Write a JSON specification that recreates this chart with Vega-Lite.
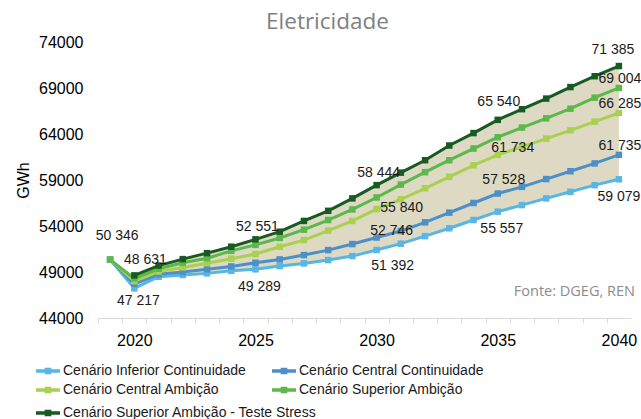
{
  "$schema": "https://vega.github.io/schema/vega-lite/v6.json",
  "width": 533,
  "height": 276,
  "autosize": {"type": "none"},
  "padding": {"left": 98, "top": 42, "right": 10, "bottom": 101},
  "config": {
    "view": {"stroke": null},
    "font": "Liberation Sans",
    "locale": {"number": {"decimal": ",", "thousands": " ", "grouping": [3], "currency": ["", " €"]}}
  },
  "title": {"text": "Eletricidade", "fontSize": 22.5, "font": "Open Sans", "fontWeight": "normal", "color": "#808080", "anchor": "middle", "dx": -37, "offset": 1},
  "data": {"values": [
    {"ano": 2019, "cenario": "Cenário Inferior Continuidade", "valor": 50346},
    {"ano": 2020, "cenario": "Cenário Inferior Continuidade", "valor": 47217},
    {"ano": 2021, "cenario": "Cenário Inferior Continuidade", "valor": 48485},
    {"ano": 2022, "cenario": "Cenário Inferior Continuidade", "valor": 48670},
    {"ano": 2023, "cenario": "Cenário Inferior Continuidade", "valor": 48850},
    {"ano": 2024, "cenario": "Cenário Inferior Continuidade", "valor": 49135},
    {"ano": 2025, "cenario": "Cenário Inferior Continuidade", "valor": 49289},
    {"ano": 2026, "cenario": "Cenário Inferior Continuidade", "valor": 49645},
    {"ano": 2027, "cenario": "Cenário Inferior Continuidade", "valor": 49935},
    {"ano": 2028, "cenario": "Cenário Inferior Continuidade", "valor": 50295},
    {"ano": 2029, "cenario": "Cenário Inferior Continuidade", "valor": 50730},
    {"ano": 2030, "cenario": "Cenário Inferior Continuidade", "valor": 51392},
    {"ano": 2031, "cenario": "Cenário Inferior Continuidade", "valor": 52080},
    {"ano": 2032, "cenario": "Cenário Inferior Continuidade", "valor": 52900},
    {"ano": 2033, "cenario": "Cenário Inferior Continuidade", "valor": 53750},
    {"ano": 2034, "cenario": "Cenário Inferior Continuidade", "valor": 54650},
    {"ano": 2035, "cenario": "Cenário Inferior Continuidade", "valor": 55557},
    {"ano": 2036, "cenario": "Cenário Inferior Continuidade", "valor": 56270},
    {"ano": 2037, "cenario": "Cenário Inferior Continuidade", "valor": 57000},
    {"ano": 2038, "cenario": "Cenário Inferior Continuidade", "valor": 57715},
    {"ano": 2039, "cenario": "Cenário Inferior Continuidade", "valor": 58440},
    {"ano": 2040, "cenario": "Cenário Inferior Continuidade", "valor": 59079},
    {"ano": 2019, "cenario": "Cenário Central Continuidade", "valor": 50346},
    {"ano": 2020, "cenario": "Cenário Central Continuidade", "valor": 47700},
    {"ano": 2021, "cenario": "Cenário Central Continuidade", "valor": 48750},
    {"ano": 2022, "cenario": "Cenário Central Continuidade", "valor": 49000},
    {"ano": 2023, "cenario": "Cenário Central Continuidade", "valor": 49300},
    {"ano": 2024, "cenario": "Cenário Central Continuidade", "valor": 49600},
    {"ano": 2025, "cenario": "Cenário Central Continuidade", "valor": 50005},
    {"ano": 2026, "cenario": "Cenário Central Continuidade", "valor": 50370},
    {"ano": 2027, "cenario": "Cenário Central Continuidade", "valor": 50840},
    {"ano": 2028, "cenario": "Cenário Central Continuidade", "valor": 51380},
    {"ano": 2029, "cenario": "Cenário Central Continuidade", "valor": 52035},
    {"ano": 2030, "cenario": "Cenário Central Continuidade", "valor": 52746},
    {"ano": 2031, "cenario": "Cenário Central Continuidade", "valor": 53450},
    {"ano": 2032, "cenario": "Cenário Central Continuidade", "valor": 54400},
    {"ano": 2033, "cenario": "Cenário Central Continuidade", "valor": 55450},
    {"ano": 2034, "cenario": "Cenário Central Continuidade", "valor": 56500},
    {"ano": 2035, "cenario": "Cenário Central Continuidade", "valor": 57528},
    {"ano": 2036, "cenario": "Cenário Central Continuidade", "valor": 58255},
    {"ano": 2037, "cenario": "Cenário Central Continuidade", "valor": 59100},
    {"ano": 2038, "cenario": "Cenário Central Continuidade", "valor": 59950},
    {"ano": 2039, "cenario": "Cenário Central Continuidade", "valor": 60800},
    {"ano": 2040, "cenario": "Cenário Central Continuidade", "valor": 61735},
    {"ano": 2019, "cenario": "Cenário Central Ambição", "valor": 50346},
    {"ano": 2020, "cenario": "Cenário Central Ambição", "valor": 48000},
    {"ano": 2021, "cenario": "Cenário Central Ambição", "valor": 49050},
    {"ano": 2022, "cenario": "Cenário Central Ambição", "valor": 49500},
    {"ano": 2023, "cenario": "Cenário Central Ambição", "valor": 49950},
    {"ano": 2024, "cenario": "Cenário Central Ambição", "valor": 50450},
    {"ano": 2025, "cenario": "Cenário Central Ambição", "valor": 50950},
    {"ano": 2026, "cenario": "Cenário Central Ambição", "valor": 51740},
    {"ano": 2027, "cenario": "Cenário Central Ambição", "valor": 52470},
    {"ano": 2028, "cenario": "Cenário Central Ambição", "valor": 53500},
    {"ano": 2029, "cenario": "Cenário Central Ambição", "valor": 54550},
    {"ano": 2030, "cenario": "Cenário Central Ambição", "valor": 55840},
    {"ano": 2031, "cenario": "Cenário Central Ambição", "valor": 56900},
    {"ano": 2032, "cenario": "Cenário Central Ambição", "valor": 58100},
    {"ano": 2033, "cenario": "Cenário Central Ambição", "valor": 59350},
    {"ano": 2034, "cenario": "Cenário Central Ambição", "valor": 60600},
    {"ano": 2035, "cenario": "Cenário Central Ambição", "valor": 61734},
    {"ano": 2036, "cenario": "Cenário Central Ambição", "valor": 62600},
    {"ano": 2037, "cenario": "Cenário Central Ambição", "valor": 63500},
    {"ano": 2038, "cenario": "Cenário Central Ambição", "valor": 64400},
    {"ano": 2039, "cenario": "Cenário Central Ambição", "valor": 65350},
    {"ano": 2040, "cenario": "Cenário Central Ambição", "valor": 66285},
    {"ano": 2019, "cenario": "Cenário Superior Ambição", "valor": 50346},
    {"ano": 2020, "cenario": "Cenário Superior Ambição", "valor": 48300},
    {"ano": 2021, "cenario": "Cenário Superior Ambição", "valor": 49350},
    {"ano": 2022, "cenario": "Cenário Superior Ambição", "valor": 50000},
    {"ano": 2023, "cenario": "Cenário Superior Ambição", "valor": 50500},
    {"ano": 2024, "cenario": "Cenário Superior Ambição", "valor": 51300},
    {"ano": 2025, "cenario": "Cenário Superior Ambição", "valor": 51950},
    {"ano": 2026, "cenario": "Cenário Superior Ambição", "valor": 52700},
    {"ano": 2027, "cenario": "Cenário Superior Ambição", "valor": 53600},
    {"ano": 2028, "cenario": "Cenário Superior Ambição", "valor": 54650},
    {"ano": 2029, "cenario": "Cenário Superior Ambição", "valor": 55800},
    {"ano": 2030, "cenario": "Cenário Superior Ambição", "valor": 57100},
    {"ano": 2031, "cenario": "Cenário Superior Ambição", "valor": 58500},
    {"ano": 2032, "cenario": "Cenário Superior Ambição", "valor": 59850},
    {"ano": 2033, "cenario": "Cenário Superior Ambição", "valor": 61150},
    {"ano": 2034, "cenario": "Cenário Superior Ambição", "valor": 62420},
    {"ano": 2035, "cenario": "Cenário Superior Ambição", "valor": 63650},
    {"ano": 2036, "cenario": "Cenário Superior Ambição", "valor": 64700},
    {"ano": 2037, "cenario": "Cenário Superior Ambição", "valor": 65700},
    {"ano": 2038, "cenario": "Cenário Superior Ambição", "valor": 66750},
    {"ano": 2039, "cenario": "Cenário Superior Ambição", "valor": 67950},
    {"ano": 2040, "cenario": "Cenário Superior Ambição", "valor": 69004},
    {"ano": 2020, "cenario": "Cenário Superior Ambição - Teste Stress", "valor": 48631},
    {"ano": 2021, "cenario": "Cenário Superior Ambição - Teste Stress", "valor": 49700},
    {"ano": 2022, "cenario": "Cenário Superior Ambição - Teste Stress", "valor": 50400},
    {"ano": 2023, "cenario": "Cenário Superior Ambição - Teste Stress", "valor": 51050},
    {"ano": 2024, "cenario": "Cenário Superior Ambição - Teste Stress", "valor": 51750},
    {"ano": 2025, "cenario": "Cenário Superior Ambição - Teste Stress", "valor": 52551},
    {"ano": 2026, "cenario": "Cenário Superior Ambição - Teste Stress", "valor": 53380},
    {"ano": 2027, "cenario": "Cenário Superior Ambição - Teste Stress", "valor": 54550},
    {"ano": 2028, "cenario": "Cenário Superior Ambição - Teste Stress", "valor": 55650},
    {"ano": 2029, "cenario": "Cenário Superior Ambição - Teste Stress", "valor": 57000},
    {"ano": 2030, "cenario": "Cenário Superior Ambição - Teste Stress", "valor": 58444},
    {"ano": 2031, "cenario": "Cenário Superior Ambição - Teste Stress", "valor": 59800},
    {"ano": 2032, "cenario": "Cenário Superior Ambição - Teste Stress", "valor": 61150},
    {"ano": 2033, "cenario": "Cenário Superior Ambição - Teste Stress", "valor": 62750},
    {"ano": 2034, "cenario": "Cenário Superior Ambição - Teste Stress", "valor": 64100},
    {"ano": 2035, "cenario": "Cenário Superior Ambição - Teste Stress", "valor": 65540},
    {"ano": 2036, "cenario": "Cenário Superior Ambição - Teste Stress", "valor": 66700},
    {"ano": 2037, "cenario": "Cenário Superior Ambição - Teste Stress", "valor": 67850},
    {"ano": 2038, "cenario": "Cenário Superior Ambição - Teste Stress", "valor": 69100},
    {"ano": 2039, "cenario": "Cenário Superior Ambição - Teste Stress", "valor": 70280},
    {"ano": 2040, "cenario": "Cenário Superior Ambição - Teste Stress", "valor": 71385}
  ]},
  "encoding": {
    "x": {
      "field": "ano", "type": "quantitative",
      "scale": {"domain": [2018.5, 2040.5], "nice": false, "zero": false},
      "axis": {
        "title": null, "values": [2019,2020,2021,2022,2023,2024,2025,2026,2027,2028,2029,2030,2031,2032,2033,2034,2035,2036,2037,2038,2039,2040],
        "format": "d", "labelExpr": "datum.value % 5 == 0 ? datum.label : ''",
        "tickOffset": -12.11, "labelOffset": 12.11, "tickSize": 5,
        "domainColor": "#d9d9d9", "tickColor": "#d9d9d9", "domainWidth": 1,
        "labelFontSize": 16, "labelColor": "#000000", "labelPadding": 9, "grid": false, "labelFlush": false, "labelOverlap": false
      }
    },
    "y": {
      "field": "valor", "type": "quantitative",
      "scale": {"domain": [44000, 74000], "nice": false, "zero": false},
      "axis": {
        "title": "GWh", "values": [44000, 49000, 54000, 59000, 64000, 69000, 74000], "format": "d",
        "domain": false, "ticks": false, "grid": false, "labelPadding": 15,
        "labelFontSize": 16, "labelColor": "#000000",
        "titleFontSize": 16, "titleFontWeight": "normal", "titleColor": "#000000", "titlePadding": 7
      }
    }
  },
  "layer": [
    {
      "transform": [{"pivot": "cenario", "value": "valor", "groupby": ["ano"]}],
      "mark": {"type": "area", "color": "#DDD9C3"},
      "encoding": {
        "y": {"field": "Cenário Superior Ambição - Teste Stress", "type": "quantitative", "title": "GWh", "scale": {"domain": [44000, 74000], "nice": false, "zero": false}},
        "y2": {"field": "Cenário Inferior Continuidade"}
      }
    },
    {
      "transform": [{"filter": "datum.cenario != 'Cenário Superior Ambição - Teste Stress'"}],
      "mark": {"type": "line", "strokeWidth": 3},
      "encoding": {
        "stroke": {"field": "cenario", "type": "nominal", "legend": null,
          "scale": {"domain": ["Cenário Superior Ambição", "Cenário Central Ambição", "Cenário Central Continuidade", "Cenário Inferior Continuidade"], "range": ["#5CB84A", "#A9D04F", "#4C8FC9", "#57B6E6"]}}
      }
    },
    {
      "transform": [{"filter": "datum.cenario != 'Cenário Superior Ambição - Teste Stress'"}],
      "mark": {"type": "point", "shape": "square", "filled": true, "opacity": 1, "size": 42},
      "encoding": {
        "color": {"field": "cenario", "type": "nominal",
          "scale": {"domain": ["Cenário Inferior Continuidade", "Cenário Central Continuidade", "Cenário Central Ambição", "Cenário Superior Ambição"], "range": ["#57B6E6", "#4C8FC9", "#A9D04F", "#5CB84A"]},
          "legend": {"orient": "none", "legendX": -62, "legendY": 317, "columns": 2, "direction": "horizontal", "title": null,
            "symbolType": "M-1,-0.15H1V0.15H-1Z M-0.28,-0.28H0.28V0.28H-0.28Z", "symbolSize": 576, "symbolStrokeWidth": 0,
            "labelFontSize": 14, "labelColor": "#1a1a1a", "labelLimit": 400, "labelOffset": 3,
            "columnPadding": 26, "rowPadding": 0, "padding": 0, "gridAlign": "each"}}
      }
    },
    {
      "transform": [{"filter": "datum.cenario == 'Cenário Superior Ambição - Teste Stress'"}],
      "mark": {"type": "line", "strokeWidth": 3, "color": "#175A22"}
    },
    {
      "transform": [{"filter": "datum.cenario == 'Cenário Superior Ambição - Teste Stress'"}],
      "mark": {"type": "point", "shape": "square", "filled": true, "opacity": 1, "size": 42},
      "encoding": {
        "fill": {"field": "cenario", "type": "nominal",
          "scale": {"domain": ["Cenário Superior Ambição - Teste Stress"], "range": ["#175A22"]},
          "legend": {"orient": "none", "legendX": -62, "legendY": 359, "columns": 1, "title": null,
            "symbolType": "M-1,-0.15H1V0.15H-1Z M-0.28,-0.28H0.28V0.28H-0.28Z", "symbolSize": 576, "symbolStrokeWidth": 0,
            "labelFontSize": 14, "labelColor": "#1a1a1a", "labelLimit": 400, "labelOffset": 3, "padding": 0}}
      }
    },
    {
      "transform": [{"filter": "datum.ano == 2019 && datum.cenario == 'Cenário Superior Ambição'"}],
      "mark": {"type": "text", "dx": 7, "dy": -24, "fontSize": 14, "color": "#1a1a1a"},
      "encoding": {"text": {"field": "valor", "type": "quantitative", "format": ",d"}}
    },
    {
      "transform": [{"filter": "datum.ano == 2020 && datum.cenario == 'Cenário Superior Ambição - Teste Stress'"}],
      "mark": {"type": "text", "dx": 11, "dy": -15, "fontSize": 14, "color": "#1a1a1a"},
      "encoding": {"text": {"field": "valor", "type": "quantitative", "format": ",d"}}
    },
    {
      "transform": [{"filter": "(datum.ano == 2025 || datum.ano == 2030) && datum.cenario == 'Cenário Superior Ambição - Teste Stress'"}],
      "mark": {"type": "text", "dx": 2, "dy": -12.5, "fontSize": 14, "color": "#1a1a1a"},
      "encoding": {"text": {"field": "valor", "type": "quantitative", "format": ",d"}}
    },
    {
      "transform": [{"filter": "datum.ano == 2035 && datum.cenario == 'Cenário Superior Ambição - Teste Stress'"}],
      "mark": {"type": "text", "dx": 1, "dy": -18, "fontSize": 14, "color": "#1a1a1a"},
      "encoding": {"text": {"field": "valor", "type": "quantitative", "format": ",d"}}
    },
    {
      "transform": [{"filter": "datum.ano == 2040 && datum.cenario == 'Cenário Superior Ambição - Teste Stress'"}],
      "mark": {"type": "text", "dx": -6, "dy": -16, "fontSize": 14, "color": "#1a1a1a"},
      "encoding": {"text": {"field": "valor", "type": "quantitative", "format": ",d"}}
    },
    {
      "transform": [{"filter": "datum.ano == 2020 && datum.cenario == 'Cenário Inferior Continuidade'"}],
      "mark": {"type": "text", "dx": 4, "dy": 13, "fontSize": 14, "color": "#1a1a1a"},
      "encoding": {"text": {"field": "valor", "type": "quantitative", "format": ",d"}}
    },
    {
      "transform": [{"filter": "(datum.ano == 2025 || datum.ano == 2035) && datum.cenario == 'Cenário Inferior Continuidade'"}],
      "mark": {"type": "text", "dx": 4, "dy": 17.5, "fontSize": 14, "color": "#1a1a1a"},
      "encoding": {"text": {"field": "valor", "type": "quantitative", "format": ",d"}}
    },
    {
      "transform": [{"filter": "datum.ano == 2040 && datum.cenario == 'Cenário Inferior Continuidade'"}],
      "mark": {"type": "text", "dx": 0, "dy": 17.5, "fontSize": 14, "color": "#1a1a1a"},
      "encoding": {"text": {"field": "valor", "type": "quantitative", "format": ",d"}}
    },
    {
      "transform": [{"filter": "datum.ano == 2030 && datum.cenario == 'Cenário Inferior Continuidade'"}],
      "mark": {"type": "text", "dx": 16, "dy": 16, "fontSize": 14, "color": "#1a1a1a"},
      "encoding": {"text": {"field": "valor", "type": "quantitative", "format": ",d"}}
    },
    {
      "transform": [{"filter": "datum.ano == 2035 && datum.cenario == 'Cenário Central Continuidade'"}],
      "mark": {"type": "text", "dx": 6, "dy": -14, "fontSize": 14, "color": "#1a1a1a"},
      "encoding": {"text": {"field": "valor", "type": "quantitative", "format": ",d"}}
    },
    {
      "transform": [{"filter": "datum.ano == 2040 && (datum.cenario == 'Cenário Central Continuidade' || datum.cenario == 'Cenário Central Ambição' || datum.cenario == 'Cenário Superior Ambição')"}],
      "mark": {"type": "text", "dx": 1, "dy": -9, "fontSize": 14, "color": "#1a1a1a"},
      "encoding": {"text": {"field": "valor", "type": "quantitative", "format": ",d"}}
    },
    {
      "transform": [{"filter": "(datum.ano == 2030 && datum.cenario == 'Cenário Central Continuidade') || (datum.ano == 2035 && datum.cenario == 'Cenário Central Ambição')"}],
      "mark": {"type": "text", "dx": 15, "dy": -7, "fontSize": 14, "color": "#1a1a1a"},
      "encoding": {"text": {"field": "valor", "type": "quantitative", "format": ",d"}}
    },
    {
      "transform": [{"filter": "datum.ano == 2030 && datum.cenario == 'Cenário Central Ambição'"}],
      "mark": {"type": "text", "dx": 25, "dy": -1, "fontSize": 14, "color": "#1a1a1a"},
      "encoding": {"text": {"field": "valor", "type": "quantitative", "format": ",d"}}
    },
    {
      "transform": [{"filter": "datum.ano == 2040 && datum.cenario == 'Cenário Inferior Continuidade'"}],
      "mark": {"type": "text", "align": "right", "baseline": "middle", "dx": 16, "dy": 112.5, "font": "Open Sans", "fontSize": 14.5, "color": "#8c8c8c"},
      "encoding": {"text": {"value": "Fonte: DGEG, REN"}}
    }
  ]
}
